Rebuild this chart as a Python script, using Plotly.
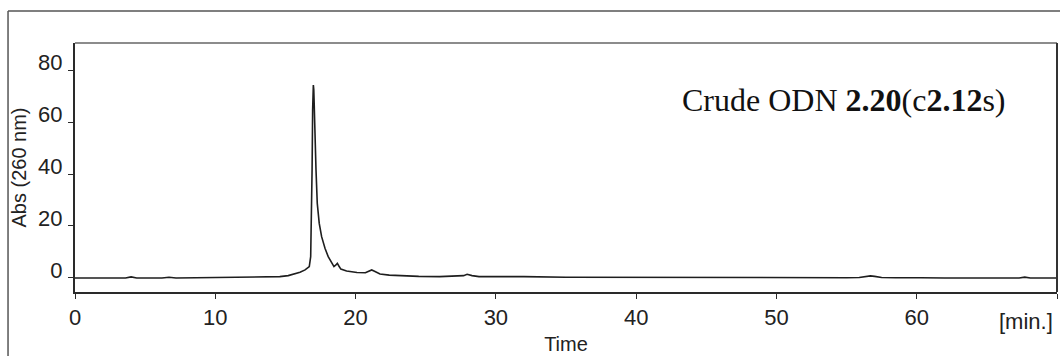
import plotly.graph_objects as go

# HPLC trace: retention time (min) and absorbance at 260 nm
time_min = [0, 2.0, 3.6, 4.0, 4.4, 6.2, 6.7, 7.2, 9.0, 9.5, 11.0, 12.0, 13.2, 14.0, 14.6, 15.2,
            15.6, 16.04, 16.4, 16.7, 16.8, 16.86, 16.9, 16.94, 16.99, 17.02, 17.05, 17.1,
            17.18, 17.27, 17.41, 17.58, 17.82, 18.05, 18.3, 18.46, 18.58, 18.7, 18.82, 18.95,
            19.36, 20.1, 20.7, 21.0, 21.15, 21.35, 21.74, 22.4, 23.2, 24.5, 26.0, 27.3, 27.7,
            27.95, 28.3, 28.8, 30.0, 32.0, 35.0, 40.0, 45.0, 50.0, 55.0, 55.9, 56.4, 56.7,
            57.0, 57.5, 58.5, 59.7, 60.0, 60.3, 62.0, 65.0, 67.3, 67.7, 68.1, 70.0]
absorbance = [0.0, 0.0, 0.0, 0.4, 0.0, 0.0, 0.3, 0.0, 0.1, 0.3, 0.2, 0.3, 0.4, 0.6, 0.5, 0.9,
              1.4, 2.2, 3.1, 4.4, 8.2, 25.0, 41.5, 64.6, 74.2, 72.5, 67.0, 54.0,
              41.5, 28.7, 21.0, 15.9, 11.4, 8.2, 5.6, 4.4, 4.9, 5.6, 4.5, 3.4,
              2.7, 2.1, 2.0, 2.6, 3.1, 2.6, 1.5, 1.1, 0.8, 0.6, 0.5, 0.6, 0.9,
              1.4, 0.9, 0.5, 0.4, 0.5, 0.3, 0.2, 0.1, 0.1, 0.1, 0.2, 0.4, 0.8,
              0.6, 0.2, 0.1, 0.1, 0.3, 0.1, 0.0, 0.0, 0.0, 0.3, 0.0, 0.0]

x_ticks = [0, 10, 20, 30, 40, 50, 60, 70]
x_tick_text = ["0", "10", "20", "30", "40", "50", "60", ""]
y_ticks = [0, 20, 40, 60, 80]

sans = "Liberation Sans, Arial, sans-serif"
ink = "#222222"

fig = go.Figure()
fig.add_trace(go.Scatter(
    x=time_min, y=absorbance, mode="lines",
    line=dict(color="#1e1e1e", width=1.6),
    showlegend=False, hoverinfo="skip",
))

fig.update_layout(
    width=1060, height=356,
    margin=dict(l=75, r=3, t=43, b=64),
    paper_bgcolor="white", plot_bgcolor="white",
    font=dict(family=sans, color=ink),
    xaxis=dict(
        range=[0, 70], tickvals=x_ticks, ticktext=x_tick_text,
        showgrid=False, zeroline=False,
        showline=True, linecolor="#2a2a2a", linewidth=2,
        ticks="outside", ticklen=5, tickwidth=1, tickcolor="#2a2a2a",
        tickfont=dict(size=22, family=sans, color=ink),
        title=dict(text="Time", font=dict(size=20, family=sans, color=ink), standoff=8),
    ),
    yaxis=dict(
        range=[-5.4, 90.4], tickvals=y_ticks,
        showgrid=False, zeroline=False,
        showline=True, linecolor="#2a2a2a", linewidth=2,
        ticks="outside", ticklen=5, tickwidth=1, tickcolor="#2a2a2a",
        tickfont=dict(size=22, family=sans, color=ink),
        ticklabelshift=-8, ticklabelstandoff=1,
        title=dict(text="Abs (260 nm)", font=dict(size=20, family=sans, color=ink), standoff=6),
    ),
)

# plot-area frame: grey top edge, dark right edge
fig.add_shape(type="line", xref="paper", yref="paper", x0=0, x1=1, y0=1, y1=1,
              line=dict(color="#8c8c8c", width=2))
fig.add_shape(type="line", xref="paper", yref="paper", x0=1, x1=1, y0=0, y1=1,
              line=dict(color="#333333", width=2))

# outer panel border (left and top edges)
fig.add_shape(type="line", xref="paper", yref="paper", x0=-0.0682, x1=-0.0682, y0=-0.3, y1=1.1285,
              line=dict(color="#555555", width=1.5))
fig.add_shape(type="line", xref="paper", yref="paper", x0=-0.0682, x1=1.01, y0=1.1285, y1=1.1285,
              line=dict(color="#555555", width=1.5))

fig.add_annotation(
    text="[min.]", xref="paper", yref="paper", x=0.9685, y=-0.12,
    xanchor="center", yanchor="middle", showarrow=False,
    font=dict(size=22, family=sans, color=ink),
)

fig.add_annotation(
    text="Crude ODN <b>2.20</b>(c<b>2.12</b>s)", xref="paper", yref="paper",
    x=0.616, y=0.771, xanchor="left", yanchor="middle", showarrow=False,
    font=dict(size=32, family="Liberation Serif, Times New Roman, serif", color="#111111"),
)

fig.write_html("out.html")
